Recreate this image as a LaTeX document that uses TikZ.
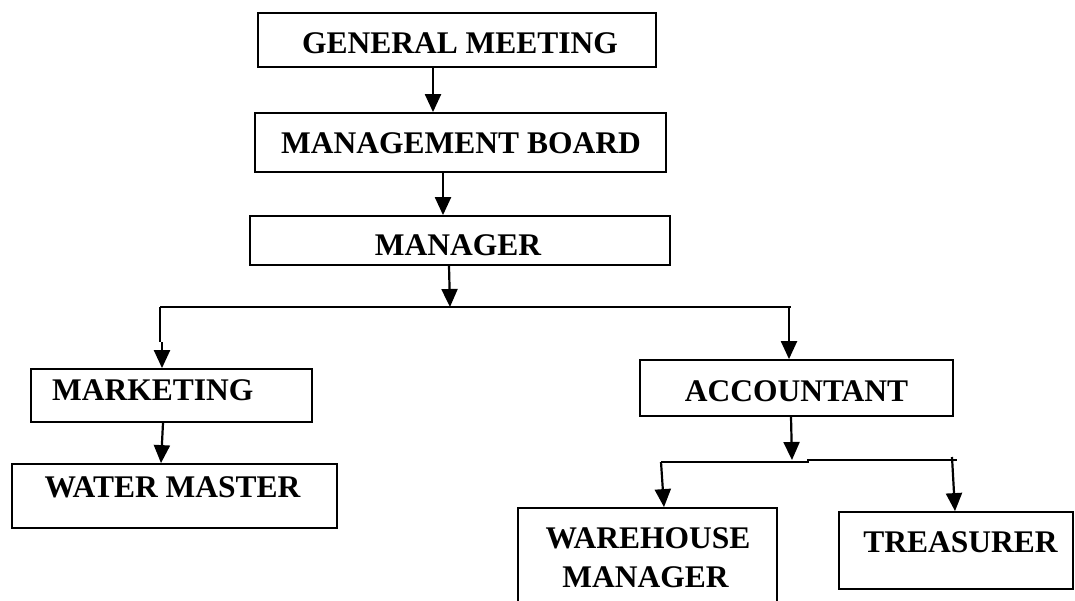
\documentclass[tikz,border=0pt]{standalone}
\usepackage{fontspec}
\setmainfont{Liberation Serif}
\usetikzlibrary{arrows.meta}
\begin{document}
\begin{tikzpicture}[x=1pt,y=-1pt,
  box/.style={draw=black, line width=1.8pt, inner sep=0pt},
  lbl/.style={inner sep=0pt, anchor=base, font=\fontsize{31.5}{39}\selectfont\bfseries},
  arr/.style={line width=2.2pt, -{Triangle[length=18pt,width=16pt]}},
  hline/.style={line width=1.8pt}]
\clip (0,0) rectangle (1075,600);
\fill[white] (0,0) rectangle (1075,600);
% boxes
\node[box, minimum width=398pt, minimum height=54pt] (gm) at (457,40) {};
\node[box, minimum width=411pt, minimum height=59pt] (mb) at (460.5,142.5) {};
\node[box, minimum width=420pt, minimum height=49pt] (mgr) at (460,240.5) {};
\node[box, minimum width=281pt, minimum height=53pt] (mkt) at (171.5,395.5) {};
\node[box, minimum width=325pt, minimum height=64pt] (wm) at (174.5,496) {};
\node[box, minimum width=313pt, minimum height=56pt] (acc) at (796.5,388) {};
\node[box, minimum width=259pt, minimum height=132pt] (wh) at (647.5,574) {};
\node[box, minimum width=234pt, minimum height=77pt] (tr) at (956,550.5) {};
% texts
\node[lbl] (tgm) at (460,53) {GENERAL MEETING};
\node[lbl] (tmb) at (461,153) {MANAGEMENT BOARD};
\node[lbl] (tmgr) at (458,255) {MANAGER};
\node[lbl, anchor=base west] (tmkt) at (52,400) {MARKETING};
\node[lbl] (twm) at (172.5,497) {WATER MASTER};
\node[lbl] (tacc) at (796.5,401) {ACCOUNTANT};
\node[lbl] (twh1) at (648,548) {WAREHOUSE};
\node[lbl] (twh2) at (645.5,587) {MANAGER};
\node[lbl] (ttr) at (960.5,552) {TREASURER};
% junction points
\coordinate (j1) at (450,307);
\coordinate (hl) at (160,307);
\coordinate (hr) at (791,307);
\coordinate (hr2) at (789,307);
\coordinate (kl) at (160,342);
\coordinate (kl2) at (162,342);
\coordinate (j2) at (792,460);
\coordinate (al) at (661,462);
\coordinate (am) at (808,462);
\coordinate (am2) at (808,460);
\coordinate (ar) at (957,460);
\coordinate (ar2) at (952,457);
% connectors
\draw[arr] ([xshift=-24pt]gm.south) -- ([xshift=-27.5pt]mb.north);
\draw[arr] ([xshift=-17.5pt]mb.south) -- ([xshift=-17pt]mgr.north);
\draw[arr] ([xshift=-11pt]mgr.south) -- (j1);
\draw[hline] (hl) -- (hr);
\draw[hline] (hl) -- (kl);
\draw[arr] (kl2) -- ([xshift=-9.5pt]mkt.north);
\draw[arr] ([xshift=-8.5pt]mkt.south) -- ([xshift=-13.5pt]wm.north);
\draw[arr] (hr2) -- ([xshift=-7.5pt]acc.north);
\draw[arr] ([xshift=-5.5pt]acc.south) -- (j2);
\draw[hline] (al) -- (am) -- (am2) -- (ar);
\draw[arr] (al) -- ([xshift=16.5pt]wh.north);
\draw[arr] (ar2) -- ([xshift=-1pt]tr.north);
\end{tikzpicture}
\end{document}
